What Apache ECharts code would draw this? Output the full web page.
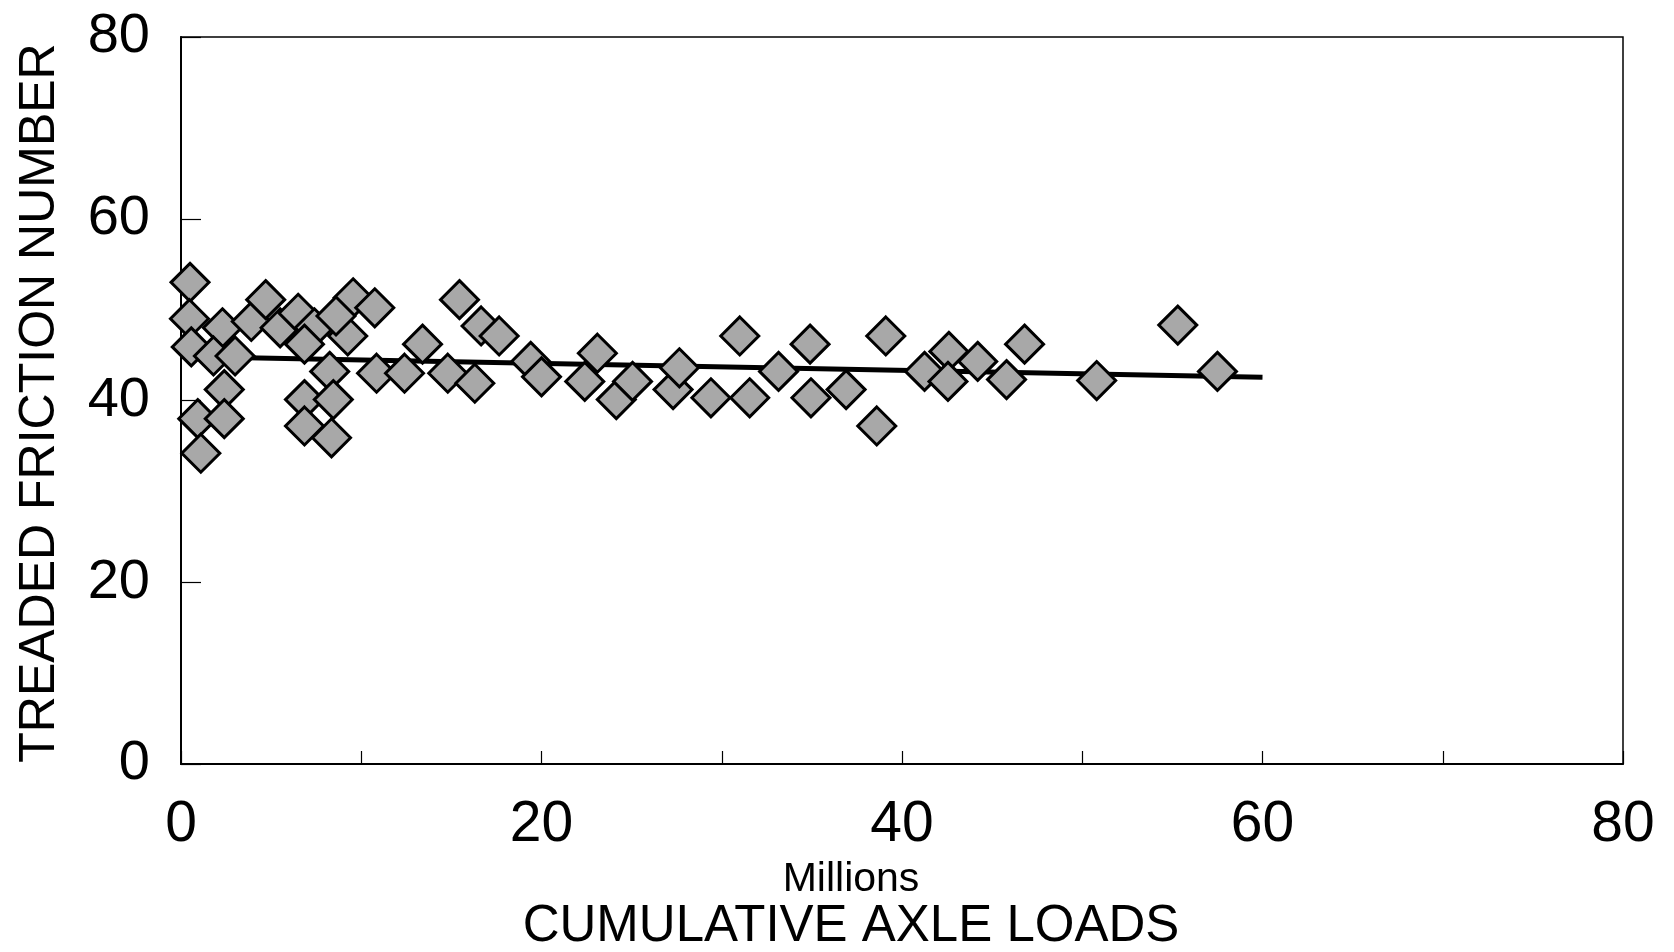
<!DOCTYPE html>
<html>
<head>
<meta charset="utf-8">
<script src="https://cdn.jsdelivr.net/npm/echarts@6/dist/echarts.min.js"></script>
<style>
  html, body { margin: 0; padding: 0; background: #fff; }
  #chart { width: 1674px; height: 952px; }
</style>
</head>
<body>
<div id="chart"></div>
<script>
// cumulative axle loads (millions) and treaded friction number
var loadsMillions = [
    0.5, 0.47, 0.57, 2.3, 1.8, 3.0, 2.4, 0.93, 2.4, 1.1,
    3.9, 4.7, 5.5, 6.5, 7.4, 6.85, 8.25, 6.85, 8.45, 6.85,
    8.35, 9.25, 9.55, 8.6, 10.75, 10.85, 12.4, 13.4, 14.8, 16.3,
    15.45, 16.65, 17.65, 19.4, 20.0, 22.4, 23.1, 24.15, 25.05, 27.3,
    27.65, 29.4, 31.0, 31.55, 33.15, 34.9, 34.95, 36.9, 38.6, 39.1,
    41.25, 42.6, 42.55, 44.2, 45.8, 46.8, 50.8, 55.3, 57.5
];
var frictionNumbers = [
    53.0, 49.0, 45.9, 48.0, 44.9, 44.9, 41.2, 38.0, 38.0, 34.2,
    48.7, 51.1, 48.0, 49.6, 48.0, 46.2, 43.2, 40.1, 40.1, 37.2,
    35.9, 47.1, 51.3, 49.3, 50.2, 43.0, 43.0, 46.2, 43.0, 41.9,
    51.1, 48.2, 47.1, 44.3, 42.6, 42.1, 45.2, 40.1, 42.1, 41.2,
    43.6, 40.3, 47.1, 40.3, 43.2, 46.2, 40.3, 41.2, 37.2, 47.1,
    43.2, 45.4, 42.1, 44.3, 42.3, 46.2, 42.2, 48.3, 43.2
];

// fitted trend line
var trendX = [0, 60];
var trendY = [44.85, 42.55];

var FONT = '"Liberation Sans", Arial, sans-serif';

function ChartLoad() {
    var chart = echarts.init(document.getElementById('chart'));

    var points = loadsMillions.map(function (x, i) { return [x, frictionNumbers[i]]; });
    var trend = trendX.map(function (x, i) { return [x, trendY[i]]; });

    var option = {
        animation: false,
        backgroundColor: '#fff',
        grid: {
            left: 181,
            right: 51,
            top: 37,
            bottom: 188,
            show: true,
            borderColor: '#000',
            borderWidth: 1.5
        },
        xAxis: {
            type: 'value',
            min: 0,
            max: 80,
            interval: 10,
            axisLine: { show: true, lineStyle: { color: '#000', width: 2 } },
            axisTick: { show: true, inside: true, length: 13, lineStyle: { color: '#000', width: 1.2 } },
            splitLine: { show: false },
            axisLabel: {
                margin: 33,
                color: '#000',
                fontFamily: FONT,
                fontSize: 57,
                showMaxLabel: true,
                formatter: function (v) { return v % 20 === 0 ? String(v) : ''; }
            }
        },
        yAxis: {
            type: 'value',
            min: 0,
            max: 80,
            interval: 20,
            axisLine: { show: true, lineStyle: { color: '#000', width: 2 } },
            axisTick: { show: true, inside: true, length: 20, lineStyle: { color: '#000', width: 1.2 } },
            splitLine: { show: false },
            axisLabel: {
                margin: 31,
                color: '#000',
                fontFamily: FONT,
                fontSize: 56
            }
        },
        graphic: [
            {
                type: 'text',
                x: 40,
                y: 403,
                rotation: Math.PI / 2,
                style: {
                    text: 'TREADED FRICTION NUMBER',
                    fontFamily: FONT,
                    fontSize: 50,
                    fill: '#000',
                    textAlign: 'center',
                    textVerticalAlign: 'middle'
                }
            },
            {
                type: 'text',
                x: 851,
                y: 880,
                style: {
                    text: 'Millions',
                    fontFamily: FONT,
                    fontSize: 41,
                    fill: '#000',
                    textAlign: 'center',
                    textVerticalAlign: 'middle'
                }
            },
            {
                type: 'text',
                x: 851,
                y: 927,
                style: {
                    text: 'CUMULATIVE AXLE LOADS',
                    fontFamily: FONT,
                    fontSize: 51,
                    fill: '#000',
                    textAlign: 'center',
                    textVerticalAlign: 'middle'
                }
            }
        ],
        series: [
            {
                name: 'trend',
                type: 'line',
                data: trend,
                symbol: 'none',
                z: 1,
                lineStyle: { color: '#000', width: 5 }
            },
            {
                name: 'TFN',
                type: 'scatter',
                data: points,
                symbol: 'diamond',
                symbolSize: 38,
                z: 2,
                itemStyle: {
                    color: '#a8a8a8',
                    borderColor: '#000',
                    borderWidth: 3,
                    opacity: 1
                }
            }
        ]
    };

    chart.setOption(option, true);
}

ChartLoad();
</script>
</body>
</html>
